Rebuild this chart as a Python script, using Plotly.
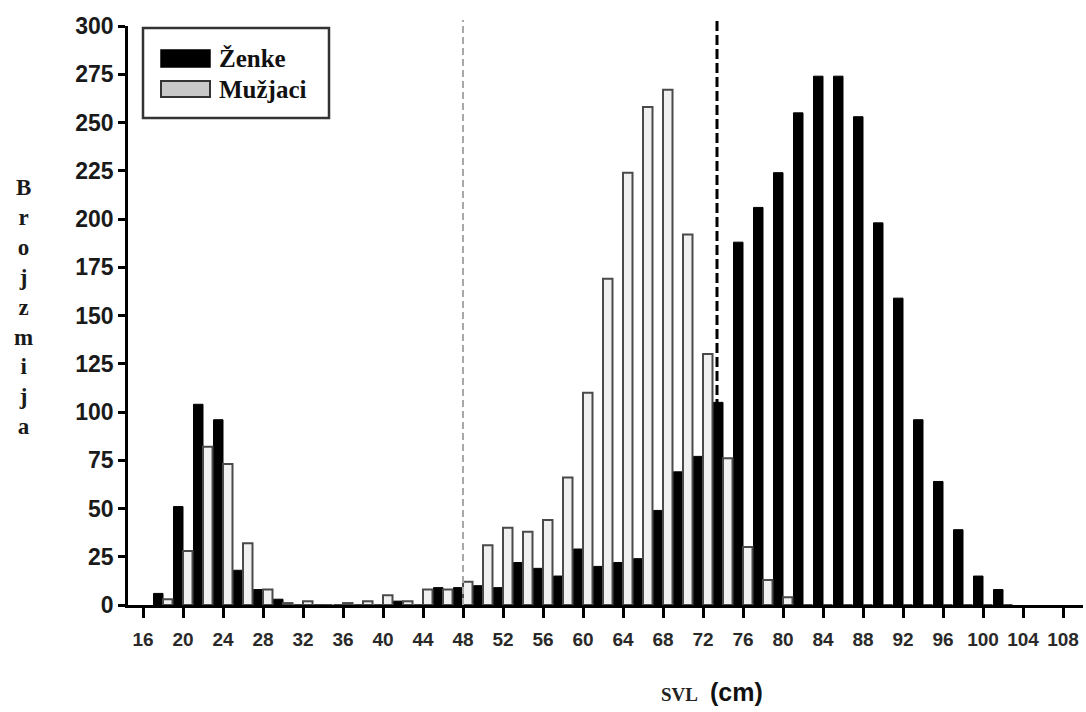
import plotly.graph_objects as go

# ---------------- data ----------------
svl_classes = [18, 20, 22, 24, 26, 28, 30, 32, 34, 36, 38, 40, 42, 44, 46, 48, 50,
               52, 54, 56, 58, 60, 62, 64, 66, 68, 70, 72, 74, 76, 78, 80, 82, 84,
               86, 88, 90, 92, 94, 96, 98, 100, 102]
zenke = [6, 51, 104, 96, 18, 8, 3, 0, 0, 0, 0, 0, 2, 0, 9, 9, 10,
         9, 22, 19, 15, 29, 20, 22, 24, 49, 69, 77, 105, 188, 206, 224, 255, 274,
         274, 253, 198, 159, 96, 64, 39, 15, 8]
muzjaci = [3, 28, 82, 73, 32, 8, 1, 2, 0, 1, 2, 5, 2, 8, 8, 12, 31,
           40, 38, 44, 66, 110, 169, 224, 258, 267, 192, 130, 76, 30, 13, 4, 0, 0,
           0, 0, 0, 0, 0, 0, 0, 0, 0]
x_ticks = list(range(16, 112, 4))
y_ticks = list(range(0, 325, 25))
male_line = 48.0     # grey dashed reference
female_line = 73.4   # black dashed reference

# ---------------- geometry helpers (pixels -> paper) ----------------
W, H = 1086, 712
PL, PR, PT, PB = 128, 1083, 26, 605


def px(x):
    return (x - PL) / (PR - PL)


def py(y):
    return (PB - y) / (PB - PT)


fig = go.Figure()
fig.add_trace(go.Bar(x=svl_classes, y=zenke, name="Ženke",
                     marker=dict(color="#000000", line=dict(color="#000000", width=1))))
fig.add_trace(go.Bar(x=svl_classes, y=muzjaci, name="Mužjaci",
                     marker=dict(color="#f0f0f0", line=dict(color="#4a4a4a", width=2))))

shapes = [
    dict(type="line", xref="x", yref="paper", x0=male_line, x1=male_line, y0=0, y1=py(20),
         line=dict(color="#a8a8a8", width=2, dash="7px,4px")),
    dict(type="line", xref="x", yref="paper", x0=female_line, x1=female_line, y0=0, y1=py(20),
         line=dict(color="#000000", width=3, dash="10px,4px")),
    # legend box
    dict(type="rect", xref="paper", yref="paper", x0=px(143), x1=px(329), y0=py(28), y1=py(118),
         line=dict(color="#333333", width=2.5), fillcolor="white"),
    dict(type="rect", xref="paper", yref="paper", x0=px(161), x1=px(210), y0=py(50), y1=py(67),
         line=dict(color="#000000", width=1.5), fillcolor="#000000"),
    dict(type="rect", xref="paper", yref="paper", x0=px(161), x1=px(210), y0=py(81), y1=py(97),
         line=dict(color="#333333", width=2), fillcolor="#c8c8c8"),
]

serif = "Liberation Serif, Times New Roman, serif"
sans = "Liberation Sans, Arial, sans-serif"
annotations = [
    dict(text="Ženke", xref="paper", yref="paper", x=px(217), y=py(58), xanchor="left",
         yanchor="middle", showarrow=False,
         font=dict(family=serif, size=25, color="#111111", weight="bold")),
    dict(text="Mužjaci", xref="paper", yref="paper", x=px(217), y=py(89), xanchor="left",
         yanchor="middle", showarrow=False,
         font=dict(family=serif, size=25, color="#111111", weight="bold")),
    dict(text="<br>".join(list("Brojzmija")), xref="paper", yref="paper", x=px(23), y=py(307),
         xanchor="center", yanchor="middle", showarrow=False, align="center",
         font=dict(family=serif, size=23, color="#1a1a1a", weight="bold")),
    dict(text="SVL", xref="paper", yref="paper", x=px(700), y=py(694), xanchor="right",
         yanchor="middle", showarrow=False,
         font=dict(family=serif, size=19, color="#222222", weight="bold")),
    dict(text="(cm)", xref="paper", yref="paper", x=px(708), y=py(692), xanchor="left",
         yanchor="middle", showarrow=False,
         font=dict(family=sans, size=25, color="#111111", weight="bold")),
]

fig.update_layout(
    width=W, height=H,
    margin=dict(l=PL, r=W - PR, t=PT, b=H - PB, pad=0),
    paper_bgcolor="white", plot_bgcolor="white",
    barmode="group", bargap=0.05, bargroupgap=0,
    showlegend=False,
    shapes=shapes, annotations=annotations,
    xaxis=dict(range=[14.5, 110], tickvals=x_ticks, ticktext=[str(v) for v in x_ticks],
               showgrid=False, zeroline=False, showline=True, linecolor="#000000", linewidth=2.5,
               ticks="outside", ticklen=10, tickwidth=2.5, tickcolor="#000000",
               tickfont=dict(family=sans, size=19, color="#2a2a2a", weight="bold"),
               ticklabelstandoff=5),
    yaxis=dict(range=[0, 300], tickvals=y_ticks, showgrid=False, zeroline=False,
               showline=True, linecolor="#000000", linewidth=2.5,
               ticks="outside", ticklen=7, tickwidth=2.5, tickcolor="#000000",
               tickfont=dict(family=sans, size=23, color="#1a1a1a", weight="bold"),
               ticklabelstandoff=0),
)

fig.write_html("out.html")
